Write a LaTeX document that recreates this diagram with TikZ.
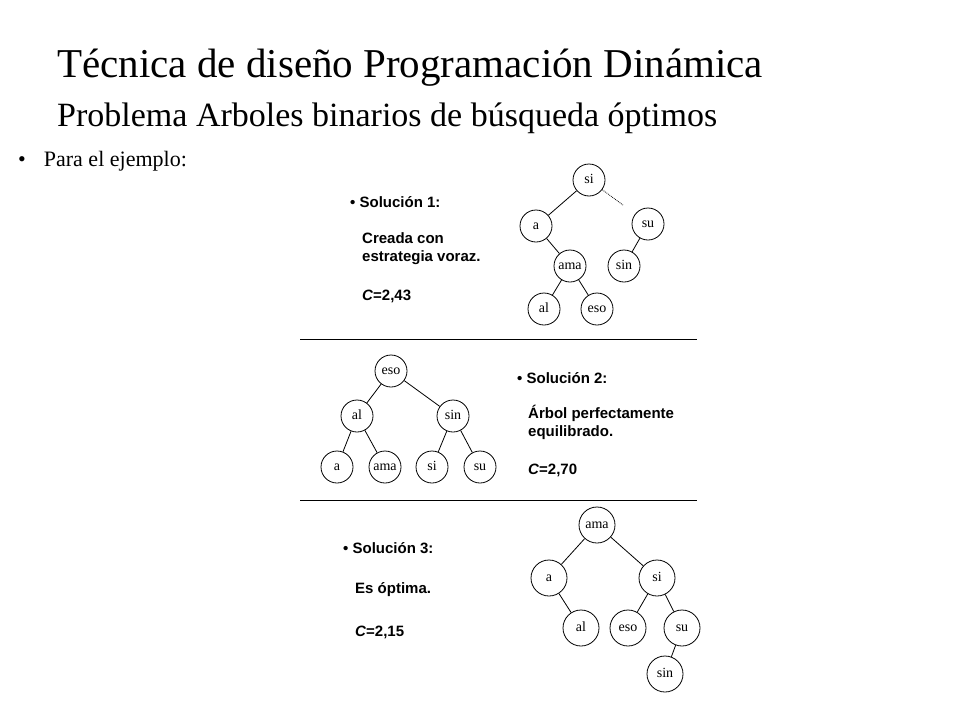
\documentclass[tikz,border=0pt]{standalone}
\usepackage{fontspec}
\setmainfont{Liberation Serif}
\newfontfamily\solfont{Liberation Sans}
\begin{document}
\begin{tikzpicture}[x=1pt,y=-1pt,
 tn/.style={circle,draw,thick,minimum size=32pt,inner sep=0pt,text height=7pt,text depth=0pt,font=\fontsize{14}{14}\selectfont},
 tnb/.style={tn,minimum size=36pt},
 sol/.style={anchor=west,font=\solfont\bfseries\fontsize{15}{18}\selectfont,inner sep=0pt},
 edge/.style={thick}]
\useasboundingbox (0,0) rectangle (960,720);
\node[anchor=west,inner sep=0pt,font=\fontsize{41}{44}\selectfont] (t) at (57,68) {Técnica de diseño Programación Dinámica};
\node[anchor=west,inner sep=0pt,font=\fontsize{34}{38}\selectfont] (st) at (57,118) {Problema Arboles binarios de búsqueda óptimos};
\node[anchor=west,inner sep=0pt,font=\fontsize{22}{24}\selectfont] (b) at (18,161) {\textbullet\hspace{18pt}Para el ejemplo:};
% tree 1
\node[tn] (s1) at (589,180) {si};
\node[tn] (a1) at (536,226) {a};
\node[tn] (u1) at (648,224) {su};
\node[tn] (m1) at (570,266) {ama};
\node[tn] (n1) at (624,266) {sin};
\node[tn] (l1) at (544,309) {al};
\node[tn] (e1) at (597,309) {eso};
\coordinate (d1) at (623,205);
\draw[edge] (s1)--(a1) (a1)--(m1) (m1)--(l1) (m1)--(e1) (u1)--(n1);
\draw[thick,densely dotted] (s1)--(d1);
\node[sol] (p1) at (350,202) {\textbullet\ Solución 1:};
\node[sol,align=left] (q1) at (362,249) {Creada con\\estrategia voraz.};
\node[sol] (r1) at (362,296) {\textit{C}=2,43};
\coordinate (h1a) at (300,339); \coordinate (h1b) at (697,339);
\draw (h1a)--(h1b);
% tree 2
\node[tn] (e2) at (391,371) {eso};
\node[tn] (l2) at (357,416) {al};
\node[tn] (n2) at (453,416) {sin};
\node[tn] (a2) at (337,467) {a};
\node[tn] (m2) at (385,467) {ama};
\node[tn] (s2) at (432,467) {si};
\node[tn] (u2) at (480,467) {su};
\draw[edge] (e2)--(l2) (e2)--(n2) (l2)--(a2) (l2)--(m2) (n2)--(s2) (n2)--(u2);
\node[sol] (p2) at (517,378) {\textbullet\ Solución 2:};
\node[sol,align=left] (q2) at (528,422) {Árbol perfectamente\\equilibrado.};
\node[sol] (r2) at (528,470) {\textit{C}=2,70};
\coordinate (h2a) at (300,500); \coordinate (h2b) at (697,500);
\draw (h2a)--(h2b);
% tree 3
\node[tnb] (m3) at (597,525) {ama};
\node[tnb] (a3) at (549,578) {a};
\node[tnb] (s3) at (657,578) {si};
\node[tnb] (l3) at (581,628) {al};
\node[tnb] (e3) at (628,628) {eso};
\node[tnb] (u3) at (682,628) {su};
\node[tnb] (n3) at (665,674) {sin};
\draw[edge] (m3)--(a3) (m3)--(s3) (a3)--(l3) (s3)--(e3) (s3)--(u3) (u3)--(n3);
\node[sol] (p3) at (343,548) {\textbullet\ Solución 3:};
\node[sol] (q3) at (355,590) {Es óptima.};
\node[sol] (r3) at (355,632) {\textit{C}=2,15};
\end{tikzpicture}
\end{document}
